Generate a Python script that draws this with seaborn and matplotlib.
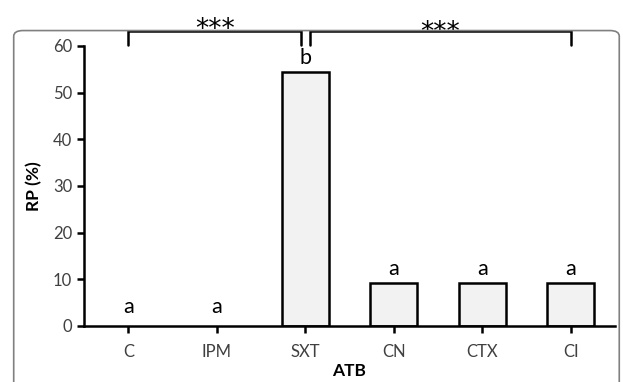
import matplotlib
matplotlib.use("Agg")
import matplotlib.pyplot as plt
from matplotlib.patches import FancyBboxPatch
import seaborn as sns
import pandas as pd

categories = ["C", "IPM", "SXT", "CN", "CTX", "CI"]
rp_values = [0.0, 0.0, 54.5, 9.1, 9.1, 9.1]
letters = ["a", "a", "b", "a", "a", "a"]
brackets = [(0, 1.95, "***"), (2.05, 5, "***")]

sns.set_theme(style="white")
plt.rcParams['font.family'] = ['Lato', 'DejaVu Sans']

df = pd.DataFrame({"ATB": categories, "RP": rp_values})

fig = plt.figure(figsize=(6.23, 3.82), dpi=100)
ax = fig.add_axes([0.135, 0.147, 0.852, 0.733])

sns.barplot(data=df, x="ATB", y="RP", order=categories, color="#f2f2f2",
            saturation=1, edgecolor="black", linewidth=1.8, width=0.53, ax=ax)
for p in ax.patches:
    if p.get_height() == 0:
        p.set_visible(False)

ax.set_ylim(0, 60)
ax.set_xlim(-0.5, 5.5)
ax.set_yticks(range(0, 61, 10))
for s in ["top", "right"]:
    ax.spines[s].set_visible(False)
for s in ["left", "bottom"]:
    ax.spines[s].set_color("black")
    ax.spines[s].set_linewidth(1.8)
ax.tick_params(axis="both", direction="out", length=5, width=1.8, color="black",
               labelsize=12, labelcolor="#404040", bottom=True, left=True)
ax.tick_params(axis="x", pad=8)
ax.set_xlabel("ATB", fontsize=12.5, fontweight="bold", color="black", labelpad=2)
ax.set_ylabel("RP (%)", fontsize=12.5, fontweight="bold", color="black", labelpad=8)

for i, (v, l) in enumerate(zip(rp_values, letters)):
    off = 1.7 if v > 0 else 2.8
    ax.text(i, v + off, l, ha="center", va="baseline", fontsize=15.5, color="black")

star_base = [61.9, 61.3]
for (x0, x1, lab), sy in zip(brackets, star_base):
    ax.plot([x0, x0, x1, x1], [60.2, 63.1, 63.1, 60.2], color="black", lw=1.8,
            clip_on=False, solid_joinstyle="miter")
    ax.text((x0 + x1) / 2, sy, lab, ha="center", va="baseline", fontsize=19,
            color="black", clip_on=False, family=["DejaVu Sans"])

frame = FancyBboxPatch((0.022, -0.05), 0.972, 0.97, boxstyle="round,pad=0,rounding_size=0.015",
                       transform=fig.transFigure, fill=False, edgecolor="#808080",
                       linewidth=1.2, clip_on=False)
fig.patches.append(frame)

fig.savefig("out.png", dpi=100)
